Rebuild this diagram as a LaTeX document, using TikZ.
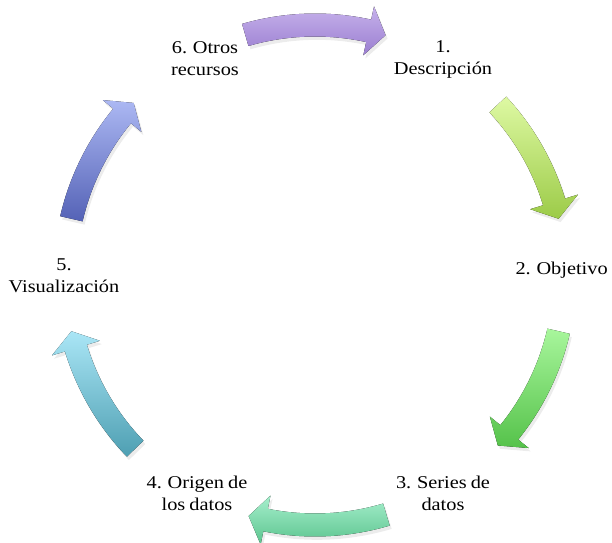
\documentclass[tikz,border=0pt]{standalone}
\usepackage{fontspec}
\setmainfont{Liberation Serif}[FakeStretch=1.13, WordSpace=0.8]
\usetikzlibrary{shadows}

\definecolor{otrosTop}{HTML}{C6B1EB}
\definecolor{otrosBot}{HTML}{9A7ED0}
\definecolor{descrTop}{HTML}{DEF9A3}
\definecolor{descrBot}{HTML}{9CCB48}
\definecolor{objetTop}{HTML}{A8F69C}
\definecolor{objetBot}{HTML}{55C24A}
\definecolor{seriesTop}{HTML}{A7EFCD}
\definecolor{seriesBot}{HTML}{5BC48E}
\definecolor{origenTop}{HTML}{AAE6F6}
\definecolor{origenBot}{HTML}{4E9FB2}
\definecolor{visualTop}{HTML}{ACB8F3}
\definecolor{visualBot}{HTML}{5462B6}

\tikzset{
  etiqueta/.style={align=center, inner sep=0pt,
    font=\fontsize{13.5}{16.5}\selectfont},
  flecha/.style={drop shadow={opacity=0.15, shadow xshift=1.5pt, shadow yshift=-2.5pt}}
}

\begin{document}
\begin{tikzpicture}[x=0.75pt,y=0.75pt]
\useasboundingbox (0,0) rectangle (612,543);

% ciclo de flechas
\begin{scope}[shift={(315,268)}]
\foreach \a/\b/\c in {106.2/73.6/otros, 43/13/descr, -13/-43/objet,
                      -73.4/-105.4/series, -136/-167/origen, 167/136.5/visual}
{
  \pgfmathsetmacro\h{\b+4}
  \fill[flecha, top color=\c Top, bottom color=\c Bot]
    (\a:261.5) arc[start angle=\a, end angle=\h, radius=261.5]
    -- (\h:275) -- (\b:250) -- (\h:225) -- (\h:238.5)
    arc[start angle=\h, end angle=\a, radius=238.5] -- cycle;
}
\end{scope}

% etiquetas
\node[etiqueta] (descr)  at (443,484) {1.\\Descripción};
\node[etiqueta, anchor=east] (objet) at (608,273) {2. Objetivo};
\node[etiqueta] (series) at (443,50)  {3. Series de\\datos};
\node[etiqueta] (origen) at (197,50)  {4. Origen de\\los datos};
\node[etiqueta] (visual) at (64,267)  {5.\\Visualización};
\node[etiqueta] (otros)  at (205,484) {6. Otros\\recursos};

\end{tikzpicture}
\end{document}
